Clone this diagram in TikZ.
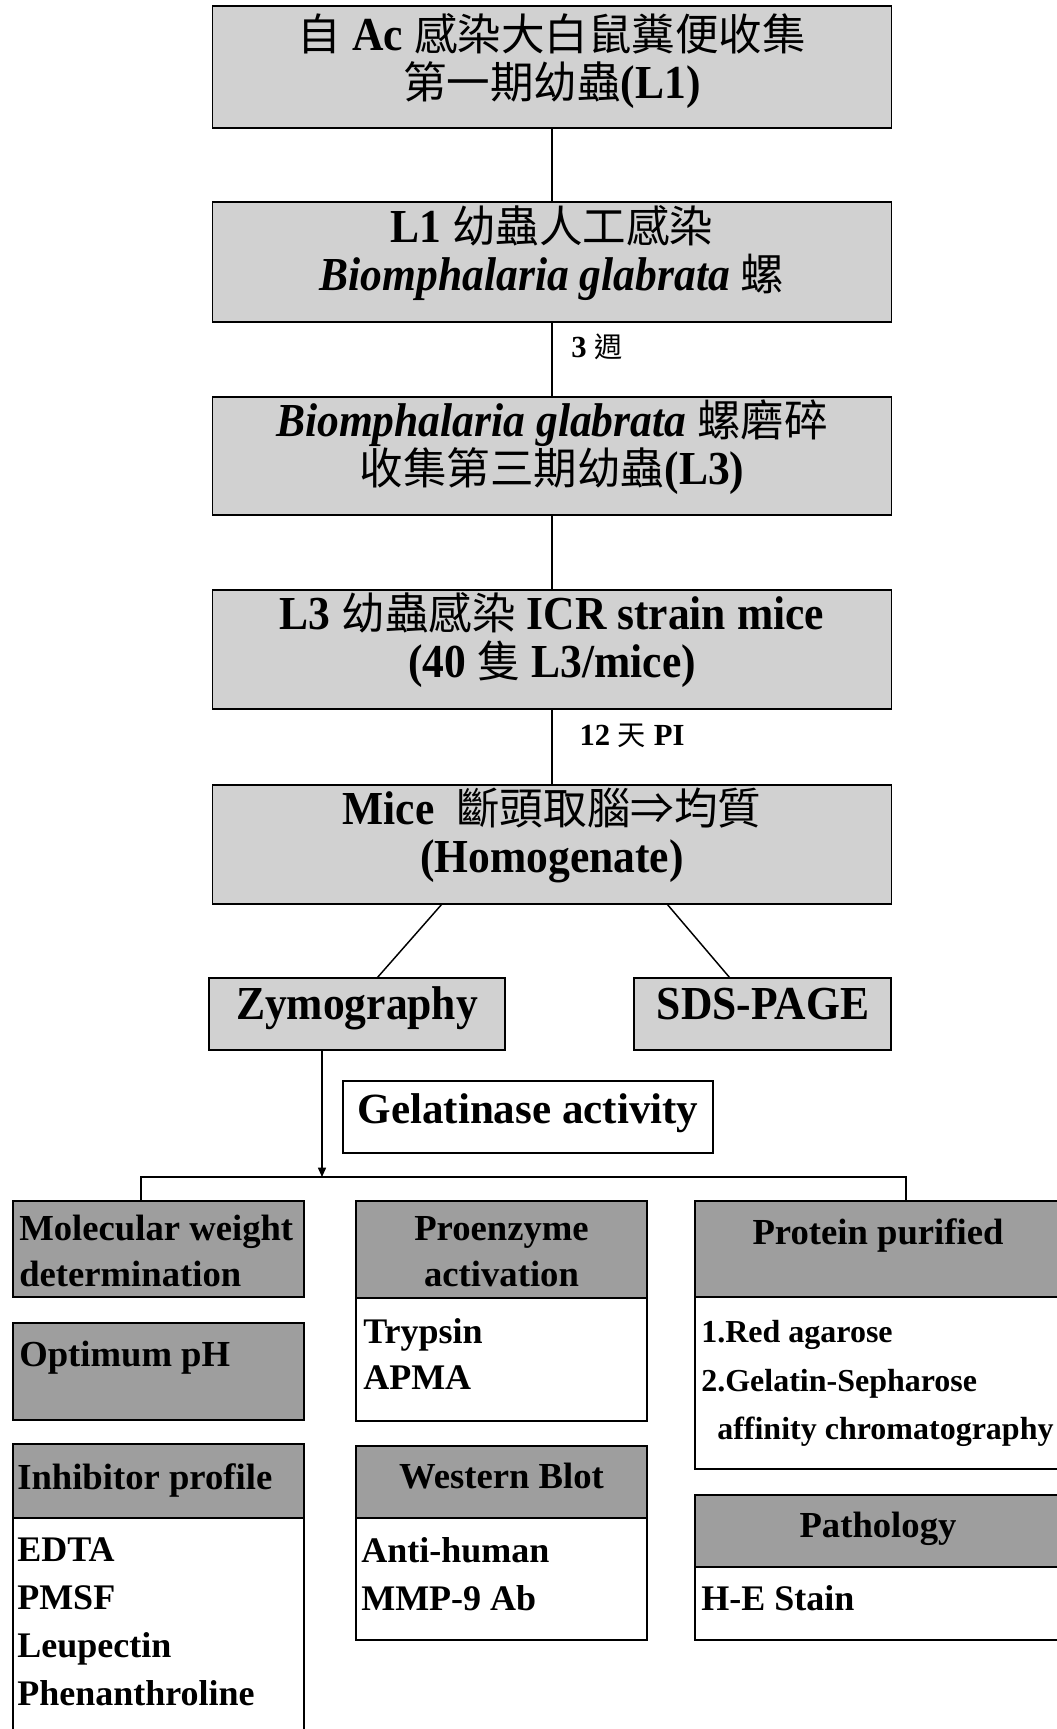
\documentclass[tikz,border=0pt]{standalone}
\usepackage{fontspec}
\setmainfont{Liberation Serif}
\newfontfamily\cjk{Noto Sans CJK TC}[Scale=0.92]
\newfontfamily\tallrm{Liberation Serif}[FakeStretch=0.92]
\usetikzlibrary{arrows.meta,calc}
% CJK run in regular weight
\newcommand\cj[1]{{\cjk\mdseries #1}}
% pixel length helper (1px = 0.75pt)
\newcommand\pxl[1]{#1*0.75pt}
\begin{document}
\begin{tikzpicture}[x=0.75pt,y=-0.75pt,
  box/.style={draw, inner sep=0pt, outer sep=0pt},
  topbox/.style={box, line width=1.4pt, fill=black!18},
  hdr/.style={box, line width=1.1pt, fill=black!38},
  body/.style={box, line width=1.1pt, fill=white},
  conn/.style={line width=1.1pt},
  toptxt/.style={font=\tallrm\bfseries\fontsize{35.5}{36}\selectfont, align=center, inner sep=0pt},
  lbl/.style={font=\bfseries\fontsize{23}{26}\selectfont, inner sep=0pt, anchor=base},
  hdrtxt/.style={font=\bfseries\fontsize{27.5}{34.5}\selectfont, inner sep=0pt},
  bodytxt/.style={font=\bfseries\fontsize{27}{36}\selectfont, align=left, inner sep=0pt, anchor=north west}
]
\useasboundingbox (0,0) rectangle (1057,1729);
\clip (0,0) rectangle (1057,1729);
\fill[white] (0,0) rectangle (1057,1729);

% ---- main chain ----
\node[topbox, minimum width=\pxl{679}, minimum height=\pxl{122}] (b1) at (552,67) {};
\node[topbox, minimum width=\pxl{679}, minimum height=\pxl{120}] (b2) at (552,262) {};
\node[topbox, minimum width=\pxl{679}, minimum height=\pxl{118}] (b3) at (552,456) {};
\node[topbox, minimum width=\pxl{679}, minimum height=\pxl{119}] (b4) at (552,649.5) {};
\node[topbox, minimum width=\pxl{679}, minimum height=\pxl{119}] (b5) at (552,844.5) {};

\node[toptxt] (t1) at (552,61) {\cj{自} Ac \cj{感染大白鼠糞便收集}\\\cj{第一期幼蟲}(L1)};
\node[toptxt] (t2) at (552,253) {L1 \cj{幼蟲人工感染}\\\textit{Biomphalaria glabrata} \cj{螺}};
\node[toptxt] (t3) at (552,447) {\textit{Biomphalaria glabrata} \cj{螺磨碎}\\\cj{收集第三期幼蟲}(L3)};
\node[toptxt] (t4) at (552,640) {L3 \cj{幼蟲感染} ICR strain mice\\(40 \cj{隻} L3/mice)};
\node[toptxt] (t5) at (552,835) {Mice\ \ \cj{斷頭取腦⇒均質}\\(Homogenate)};

\draw[conn] (b1) -- (b2);
\draw[conn] (b2) -- (b3);
\draw[conn] (b3) -- (b4);
\draw[conn] (b4) -- (b5);

\node[lbl] (l1) at (597,357) {3 \cj{週}};
\node[lbl] (l2) at (632,745) {12 \cj{天} PI};

% ---- analysis branches ----
\node[topbox, minimum width=\pxl{296}, minimum height=\pxl{72}] (zym) at (357,1014) {};
\node[topbox, minimum width=\pxl{257}, minimum height=\pxl{72}] (sds) at (762.5,1014) {};
\node[toptxt, anchor=base] (tz) at (357,1019) {Zymography};
\node[toptxt, anchor=base] (ts) at (763,1019) {SDS-PAGE};

\draw[conn] ($(b5.south)+(-110,0)$) -- ($(zym.north)+(20,0)$);
\draw[conn] ($(b5.south)+(115,0)$) -- ($(sds.north)+(-32.5,0)$);

\node[box, line width=1.3pt, fill=white, minimum width=\pxl{370}, minimum height=\pxl{72}] (ga) at (528,1117) {};
\node[font=\bfseries\fontsize{32.3}{36}\selectfont, inner sep=0pt, anchor=base] (tg) at (528,1123) {Gelatinase activity};

% ---- distribution line ----
\coordinate (split) at (322,1177);
\coordinate (bl) at (141,1177);
\coordinate (br) at (906,1177);

% ---- result boxes ----
\node[hdr, minimum width=\pxl{291}, minimum height=\pxl{96}] (mw) at (158.5,1249) {};
\node[hdr, minimum width=\pxl{291}, minimum height=\pxl{97}] (oph) at (158.5,1371.5) {};
\node[hdr, minimum width=\pxl{291}, minimum height=\pxl{74}] (ihh) at (158.5,1481) {};
\node[body, minimum width=\pxl{291}, minimum height=\pxl{242}] (ihb) at (158.5,1639) {};

\node[hdr, minimum width=\pxl{291}, minimum height=\pxl{97}] (peh) at (501.5,1249.5) {};
\node[body, minimum width=\pxl{291}, minimum height=\pxl{123}] (peb) at (501.5,1359.5) {};
\node[hdr, minimum width=\pxl{291}, minimum height=\pxl{72}] (wbh) at (501.5,1482) {};
\node[body, minimum width=\pxl{291}, minimum height=\pxl{122}] (wbb) at (501.5,1579) {};

\node[hdr, minimum width=\pxl{366}, minimum height=\pxl{96}] (pph) at (878,1249) {};
\node[body, minimum width=\pxl{366}, minimum height=\pxl{172}] (ppb) at (878,1383) {};
\node[hdr, minimum width=\pxl{366}, minimum height=\pxl{72}] (pah) at (878,1531) {};
\node[body, minimum width=\pxl{366}, minimum height=\pxl{73}] (pab) at (878,1603.5) {};

\draw[conn, -{Triangle[length=7pt,width=6pt]}] (zym.south -| split) -- (split);
\draw[conn] (mw.north -| bl) -- (bl) -- (br) -- (pph.north -| br);

% header texts
\node[hdrtxt, anchor=north west, align=left] (hmw) at (19,1215) {Molecular weight\\determination};
\node[hdrtxt, anchor=north west] (hop) at (19,1341) {Optimum pH};
\node[hdrtxt, anchor=north west] (hih) at (17,1463) {Inhibitor profile};
\node[hdrtxt, anchor=north, align=center] (hpe) at (501.5,1216) {Proenzyme\\activation};
\node[hdrtxt, anchor=north] (hwb) at (501.5,1463) {Western Blot};
\node[hdrtxt, anchor=north] (hpp) at (878,1218) {Protein purified};
\node[hdrtxt, anchor=north] (hpa) at (878,1512) {Pathology};

% body texts
\node[bodytxt] (xih) at (17,1537) {EDTA\\PMSF\\Leupectin\\Phenanthroline};
\node[bodytxt, font=\bfseries\fontsize{27}{35}\selectfont] (xpe) at (363,1318) {Trypsin\\APMA};
\node[bodytxt, font=\bfseries\fontsize{27}{36.5}\selectfont] (xwb) at (361,1537) {Anti-human\\MMP-9 Ab};
\node[bodytxt, font=\bfseries\fontsize{24}{36.4}\selectfont] (xpp) at (701,1320) {1.Red agarose\\2.Gelatin-Sepharose\\\hspace*{12pt}affinity chromatography};
\node[bodytxt] (xpa) at (701,1585) {H-E Stain};
\end{tikzpicture}
\end{document}
